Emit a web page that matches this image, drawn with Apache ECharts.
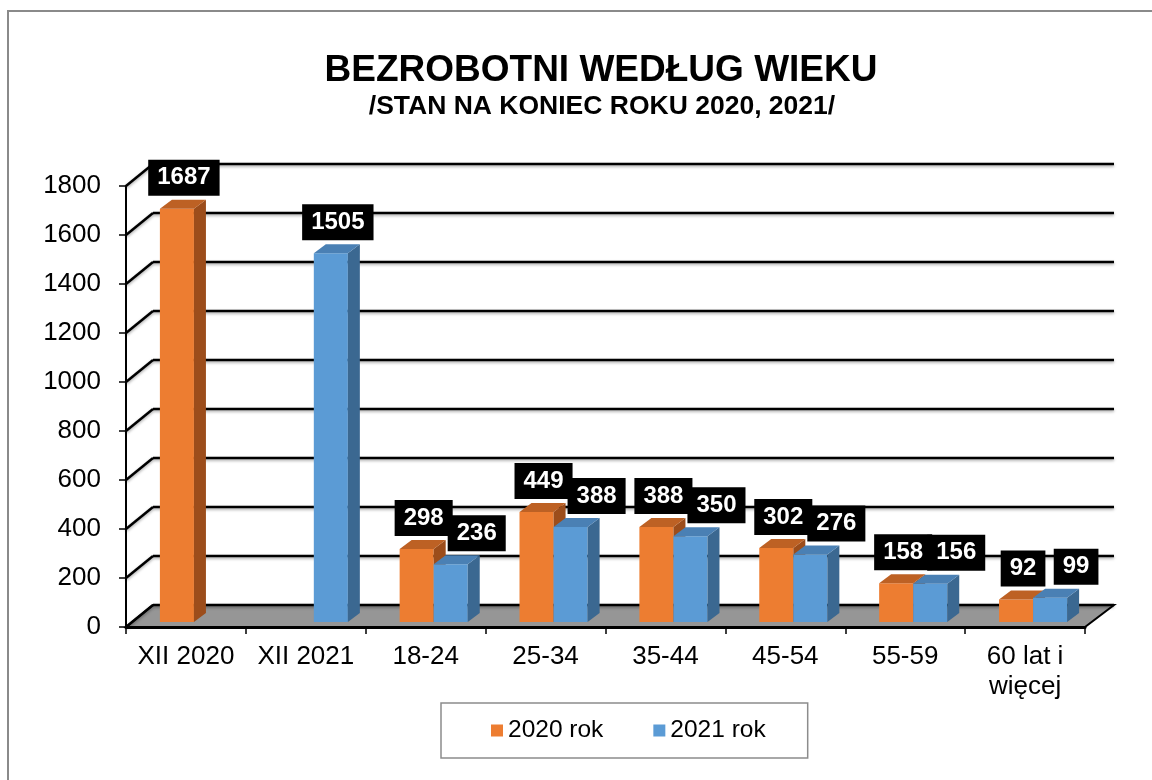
<!DOCTYPE html>
<html>
<head>
<meta charset="utf-8">
<title>Bezrobotni według wieku</title>
<script src="https://cdn.jsdelivr.net/npm/echarts@6/dist/echarts.min.js"></script>
<style>
  html, body { margin: 0; padding: 0; background: #fff; }
  #chart { width: 1152px; height: 780px; }
</style>
</head>
<body>
<div id="chart"></div>
<script>
// dane
const categories = ['XII 2020', 'XII 2021', '18-24', '25-34', '35-44', '45-54', '55-59', '60 lat i\nwięcej']
const rok2020 = [1687, null, 298, 449, 388, 302, 158, 92]
const rok2021 = [null, 1505, 236, 388, 350, 276, 156, 99]
const yTicks = [0, 200, 400, 600, 800, 1000, 1200, 1400, 1600, 1800]

const FONT = '"Liberation Sans", Arial, sans-serif'
const WALL = [27, -22]   // glebokosc tylnej sciany
const SHIFT = [8, -5]    // przesuniecie slupkow w glab
const DEPTH = [12, -9]   // glebokosc slupka

const faces = [
  { front: '#ED7D31', top: '#BD6124', side: '#9C4D1B' },
  { front: '#5B9BD5', top: '#4A80B4', side: '#3B6891' }
]

function barRenderer (idx, other) {
  return function (params, api) {
    const i = api.value(0)
    const v = api.value(1)
    if (v == null || isNaN(v)) return
    const base = api.coord([i, 0])
    const tip = api.coord([i, v])
    const bw = api.size([1, 0])[0] * 0.284
    const left = base[0] + SHIFT[0] - (idx === 0 ? bw : 0)
    const right = left + bw
    const bottom = base[1] + SHIFT[1]
    const top = tip[1] + SHIFT[1]
    const c = faces[idx]
    const paired = other[i] != null
    const lx = left + bw / 2 + 7 + (idx === 1 && paired ? 19 : 0)
    return {
      type: 'group',
      children: [
        {
          type: 'rect',
          shape: { x: left, y: top, width: bw, height: bottom - top },
          style: { fill: c.front }
        },
        {
          type: 'polygon',
          shape: { points: [[right, bottom], [right, top], [right + DEPTH[0], top + DEPTH[1]], [right + DEPTH[0], bottom + DEPTH[1]]] },
          style: { fill: c.side }
        },
        {
          type: 'polygon',
          shape: { points: [[left, top], [right, top], [right + DEPTH[0], top + DEPTH[1]], [left + DEPTH[0], top + DEPTH[1]]] },
          style: { fill: c.top }
        },
        {
          type: 'text',
          z2: idx === 0 ? 110 : 100,
          style: {
            text: String(v),
            x: lx,
            y: top - 31,
            align: 'center',
            textAlign: 'center',
            verticalAlign: 'middle',
            textVerticalAlign: 'middle',
            font: 'bold 24px ' + FONT,
            fill: '#fff',
            backgroundColor: '#000',
            padding: [6, 9, 6, 9]
          }
        }
      ]
    }
  }
}

const chart = echarts.init(document.getElementById('chart'))
chart.setOption({
  animation: false,
  color: ['#ED7D31', '#5B9BD5'],
  textStyle: { fontFamily: FONT },
  graphic: [
    {
      type: 'rect',
      silent: true,
      z: -10,
      shape: { x: 8, y: 11, width: 1200, height: 820 },
      style: { fill: 'none', stroke: '#8a8a8a', lineWidth: 2 }
    },
    {
      type: 'text',
      x: 601,
      y: 71,
      style: {
        text: 'BEZROBOTNI WEDŁUG WIEKU',
        font: 'bold 37px ' + FONT,
        fill: '#000',
        align: 'center',
        textAlign: 'center',
        verticalAlign: 'middle',
        textVerticalAlign: 'middle'
      }
    },
    {
      type: 'text',
      x: 602,
      y: 107,
      style: {
        text: '/STAN NA KONIEC ROKU 2020, 2021/',
        font: 'bold 26.5px ' + FONT,
        fill: '#000',
        align: 'center',
        textAlign: 'center',
        verticalAlign: 'middle',
        textVerticalAlign: 'middle'
      }
    }
  ],
  legend: {
    data: ['2020 rok', '2021 rok'],
    left: 441,
    top: 703,
    icon: 'rect',
    itemWidth: 12,
    itemHeight: 12,
    itemGap: 50,
    padding: [15, 42, 15, 50],
    borderColor: '#8c8c8c',
    borderWidth: 1.5,
    textStyle: { fontSize: 24.5, color: '#000', lineHeight: 24, fontFamily: FONT }
  },
  grid: { left: 126, right: 67, top: 186, bottom: 153 },
  xAxis: {
    type: 'category',
    data: categories,
    z: 5,
    axisLine: { lineStyle: { color: '#000', width: 3 } },
    axisTick: { show: true, length: 7, lineStyle: { color: '#000', width: 1.5 } },
    axisLabel: { fontSize: 26, color: '#000', margin: 15, lineHeight: 30, interval: 0, fontFamily: FONT },
    splitLine: { show: false }
  },
  yAxis: {
    type: 'value',
    min: 0,
    max: 1800,
    interval: 200,
    z: 5,
    axisLine: { show: true, lineStyle: { color: '#000', width: 2 } },
    axisTick: { show: true, length: 7, lineStyle: { color: '#000', width: 1.5 } },
    axisLabel: {
      fontSize: 26,
      color: '#000',
      margin: 25,
      fontFamily: FONT,
      formatter: function (v) { return String(v) }
    },
    splitLine: { show: false }
  },
  series: [
    {
      // podloga
      type: 'custom',
      silent: true,
      z: 1,
      data: [[0, 0]],
      renderItem: function (params, api) {
        const cs = params.coordSys
        const y0 = api.coord([0, 0])[1]
        const x0 = cs.x
        const x1 = cs.x + cs.width
        return {
          type: 'polygon',
          shape: { points: [[x0, y0], [x1, y0], [x1 + WALL[0] + 2, y0 + WALL[1]], [x0 + WALL[0], y0 + WALL[1]]] },
          style: { fill: '#969696', stroke: '#000', lineWidth: 2 }
        }
      }
    },
    {
      // linie siatki na tylnej scianie
      type: 'custom',
      silent: true,
      z: 2,
      data: yTicks.map(function (v) { return [0, v] }),
      renderItem: function (params, api) {
        const cs = params.coordSys
        const y = api.coord([0, api.value(1)])[1]
        const x0 = cs.x
        const x1 = cs.x + cs.width
        const st = { stroke: '#000', lineWidth: 2.5, shadowBlur: 3, shadowColor: 'rgba(0,0,0,0.35)', shadowOffsetY: 1.5 }
        return {
          type: 'group',
          children: [
            { type: 'line', shape: { x1: x0, y1: y, x2: x0 + WALL[0], y2: y + WALL[1] }, style: st },
            { type: 'line', shape: { x1: x0 + WALL[0], y1: y + WALL[1], x2: x1 + WALL[0] + 2, y2: y + WALL[1] }, style: st }
          ]
        }
      }
    },
    {
      name: '2020 rok',
      type: 'custom',
      z: 3,
      itemStyle: { color: '#ED7D31' },
      data: rok2020.map(function (v, i) { return [i, v] }),
      renderItem: barRenderer(0, rok2021)
    },
    {
      name: '2021 rok',
      type: 'custom',
      z: 3,
      itemStyle: { color: '#5B9BD5' },
      data: rok2021.map(function (v, i) { return [i, v] }),
      renderItem: barRenderer(1, rok2020)
    }
  ]
})
</script>
</body>
</html>
